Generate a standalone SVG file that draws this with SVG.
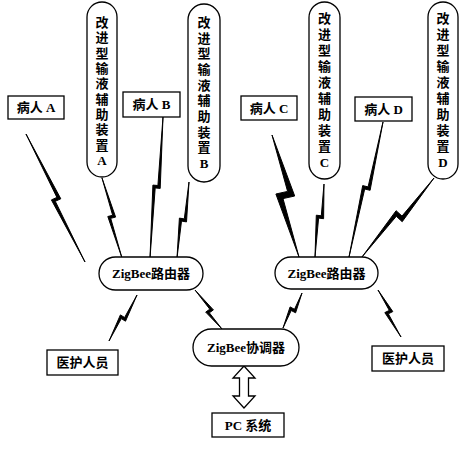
<svg xmlns="http://www.w3.org/2000/svg" width="459" height="450" viewBox="0 0 459 450">
<style>
.box{fill:#fff;stroke:#000;stroke-width:1.3}
.pill{fill:#fff;stroke:#000;stroke-width:1.3}
.t{font-family:"Liberation Serif","Noto Sans CJK SC",serif;font-weight:bold;font-size:13px;fill:#000;text-anchor:middle;dominant-baseline:central}
.bolt{fill:#000;stroke:#000;stroke-width:1;stroke-linejoin:round}
.arrow{fill:#fff;stroke:#000;stroke-width:1.3;stroke-linejoin:miter}
</style>
<rect width="459" height="450" fill="#fff"/>
<g id="connectors">
<polygon class="bolt" points="26,134 60.8,198.8 55.3,201.3 85,262 51.4,199.9 56.9,197.4"/>
<polygon class="bolt" points="102,178 115.6,217.1 110.7,218.3 122,258 107.8,216.5 112.65,215.3"/>
<polygon class="bolt" points="163,117 160.2,188.4 155.2,187.9 150,258 152.9,185.1 157.9,185.5"/>
<polygon class="bolt" points="189,182 186.5,221.9 181.5,221.1 177,258 179.4,218.1 184.3,218.9"/>
<polygon class="bolt" points="137,295 125.5,321.2 121.3,318.6 109,341 120.4,314.9 124.6,317.5"/>
<polygon class="bolt" points="195,290 213.4,309.9 209.3,312.8 222,329 205.7,312.1 209.8,309.2"/>
<polygon class="bolt" points="272,135 294.7,196 283,198.6 299,257 275.9,194 287.6,191.4"/>
<polygon class="bolt" points="324,184 323.6,218.7 318.6,218.1 315,257 316.3,215.2 321.3,215.8"/>
<polygon class="bolt" points="383,122 370.1,190.3 364.7,189 349,257 362.7,185.6 368.1,186.9"/>
<polygon class="bolt" points="434,178 402.2,221.7 396.3,216.3 362,257 396.1,210.7 402,216.1"/>
<polygon class="bolt" points="302,293 295.6,312.8 291.2,310.5 283,328 290.1,306.9 294.5,309.3"/>
<polygon class="bolt" points="378,290 392.8,311.6 388.3,313.8 401,337 384.8,312.6 389.3,310.4"/>
<polygon class="arrow" points="244,366 255,378 248.5,378 248.5,396 255,396 244,408 233,396 239.5,396 239.5,378 233,378"/>
</g>
<g id="patientA"><rect class="box" x="8" y="96" width="56" height="23"/><text class="t" x="36" y="107.5">病人 A</text></g>
<g id="patientB"><rect class="box" x="123" y="92" width="57" height="25"/><text class="t" x="151.5" y="104.5">病人 B</text></g>
<g id="patientC"><rect class="box" x="241" y="96" width="56" height="24"/><text class="t" x="269" y="108">病人 C</text></g>
<g id="patientD"><rect class="box" x="355" y="97" width="57" height="24"/><text class="t" x="383.5" y="109">病人 D</text></g>
<g id="deviceA"><rect class="pill" x="87" y="2" width="30" height="175" rx="15"/>
<text class="t"><tspan x="102" y="22">改</tspan><tspan x="102" y="37.3">进</tspan><tspan x="102" y="52.7">型</tspan><tspan x="102" y="68">输</tspan><tspan x="102" y="83.3">液</tspan><tspan x="102" y="98.7">辅</tspan><tspan x="102" y="114">助</tspan><tspan x="102" y="129.3">装</tspan><tspan x="102" y="144.7">置</tspan><tspan x="102" y="160">A</tspan></text></g>
<g id="deviceB"><rect class="pill" x="188" y="4" width="32" height="178" rx="16"/>
<text class="t"><tspan x="204" y="22">改</tspan><tspan x="204" y="37.7">进</tspan><tspan x="204" y="53.3">型</tspan><tspan x="204" y="69">输</tspan><tspan x="204" y="84.7">液</tspan><tspan x="204" y="100.3">辅</tspan><tspan x="204" y="116">助</tspan><tspan x="204" y="131.7">装</tspan><tspan x="204" y="147.3">置</tspan><tspan x="204" y="163">B</tspan></text></g>
<g id="deviceC"><rect class="pill" x="309" y="2" width="31" height="177" rx="15.5"/>
<text class="t"><tspan x="324.5" y="18">改</tspan><tspan x="324.5" y="34">进</tspan><tspan x="324.5" y="50">型</tspan><tspan x="324.5" y="66">输</tspan><tspan x="324.5" y="82">液</tspan><tspan x="324.5" y="98">辅</tspan><tspan x="324.5" y="114">助</tspan><tspan x="324.5" y="130">装</tspan><tspan x="324.5" y="146">置</tspan><tspan x="324.5" y="162">C</tspan></text></g>
<g id="deviceD"><rect class="pill" x="428" y="2" width="30" height="177" rx="15"/>
<text class="t"><tspan x="443" y="18">改</tspan><tspan x="443" y="34">进</tspan><tspan x="443" y="50">型</tspan><tspan x="443" y="66">输</tspan><tspan x="443" y="82">液</tspan><tspan x="443" y="98">辅</tspan><tspan x="443" y="114">助</tspan><tspan x="443" y="130">装</tspan><tspan x="443" y="146">置</tspan><tspan x="443" y="162">D</tspan></text></g>
<g id="router1"><rect class="pill" x="99" y="257" width="104" height="33" rx="16.5"/><text class="t" x="151" y="273.5">ZigBee路由器</text></g>
<g id="router2"><rect class="pill" x="275" y="257" width="103" height="32" rx="16"/><text class="t" x="326.5" y="273">ZigBee路由器</text></g>
<g id="coordinator"><rect class="pill" x="193" y="329" width="106" height="37" rx="18.5"/><text class="t" x="246" y="347.5">ZigBee协调器</text></g>
<g id="nurseL"><rect class="box" x="47" y="350" width="71" height="25"/><text class="t" x="82.5" y="362.5">医护人员</text></g>
<g id="nurseR"><rect class="box" x="372" y="346" width="72" height="25"/><text class="t" x="408" y="358.5">医护人员</text></g>
<g id="pc"><rect class="box" x="212" y="413" width="72" height="24"/><text class="t" x="248" y="425">PC 系统</text></g>
</svg>
